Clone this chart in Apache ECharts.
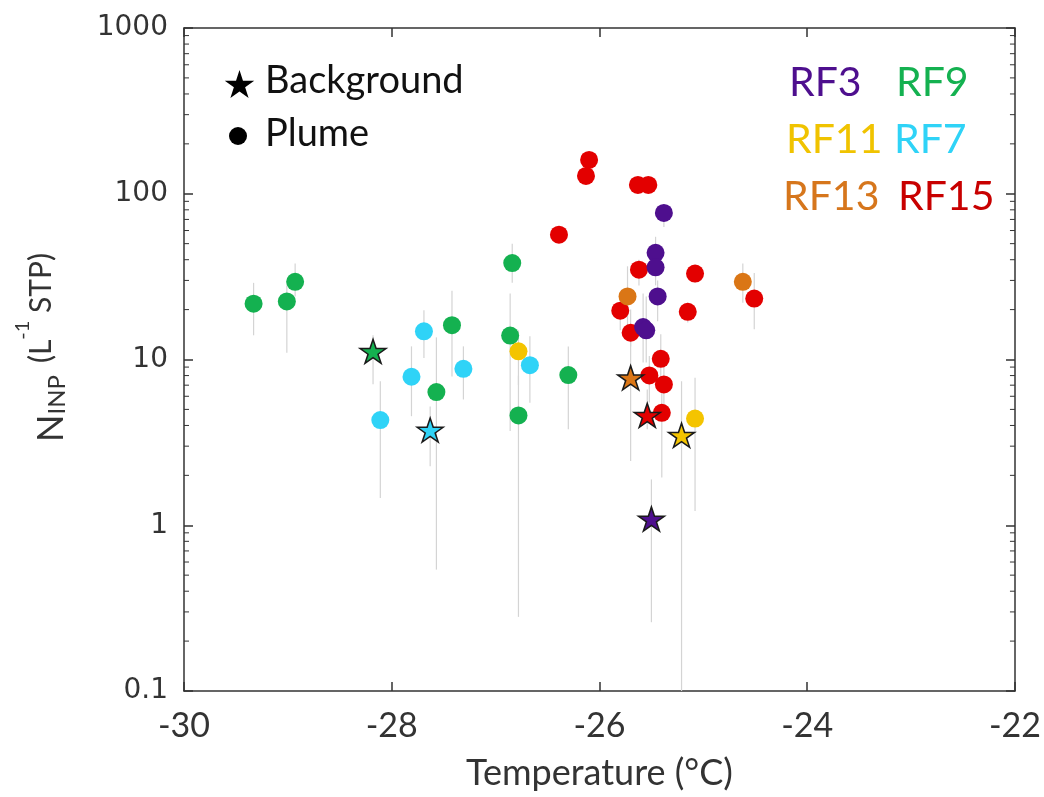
<!DOCTYPE html>
<html>
<head>
<meta charset="utf-8">
<script src="https://cdn.jsdelivr.net/npm/echarts@6/dist/echarts.min.js"></script>
<style>
  html, body { margin: 0; padding: 0; background: #ffffff; }
  #chart { width: 1044px; height: 797px; }
</style>
</head>
<body>
<div id="chart"></div>
<script>
// Each point: [temperature (°C), N_INP (L^-1 STP), lower bound, upper bound]
const rf3Plume = [
  [-25.38, 76.6, 63, 86],
  [-25.46, 44.0, 33, 55],
  [-25.46, 36.0, 28, 45],
  [-25.44, 24.0, 17, 30],
  [-25.58, 15.7, 9.6, 25],
  [-25.55, 15.0, 9.6, 24]
];
const rf3Background = [[-25.50, 1.09, 0.26, 1.89]];

const rf9Plume = [
  [-29.33, 21.7, 14, 29],
  [-29.01, 22.4, 11, 28],
  [-28.93, 29.4, 24, 38],
  [-27.57, 6.36, 0.54, 13.6],
  [-27.42, 16.1, 7.9, 26],
  [-26.86, 13.95, 3.7, 25],
  [-26.84, 38.2, 29, 50],
  [-26.78, 4.6, 0.28, 8],
  [-26.30, 8.05, 3.8, 12]
];
const rf9Background = [[-28.18, 11.2, 7.1, 14]];

const rf11Plume = [
  [-26.78, 11.2, 7, 15],
  [-25.08, 4.4, 1.22, 7.75]
];
const rf11Background = [[-25.21, 3.49, 0.05, 7.4]];

const rf7Plume = [
  [-28.11, 4.31, 1.46, 7.4],
  [-27.81, 7.87, 4.55, 12],
  [-27.69, 14.8, 10.2, 19.8],
  [-27.31, 8.79, 5.74, 12],
  [-26.67, 9.24, 5.48, 13.8]
];
const rf7Background = [[-27.63, 3.75, 2.27, 5.2]];

const rf13Plume = [
  [-25.73, 24.0, 14, 36.5],
  [-24.62, 29.4, 22, 38]
];
const rf13Background = [[-25.70, 7.76, 2.44, 14]];

const rf15Plume = [
  [-26.10, 160, 150, 170],
  [-26.13, 128, 120, 136],
  [-26.39, 56.6, 52, 61],
  [-25.63, 113, 105, 120],
  [-25.53, 113, 105, 120],
  [-25.62, 34.8, 28, 40],
  [-25.08, 33.0, 29, 37],
  [-25.80, 19.7, 15, 24],
  [-24.51, 23.3, 15.2, 33.2],
  [-25.15, 19.4, 16.7, 22],
  [-25.70, 14.5, 12, 20],
  [-25.41, 10.1, 7, 14.2],
  [-25.52, 8.01, 5.5, 10.5],
  [-25.38, 7.07, 5, 9.5],
  [-25.40, 4.77, 1.94, 7]
];
const rf15Background = [[-25.54, 4.6, 3.8, 6.6]];

const xTickLabels = ['-30', '-28', '-26', '-24', '-22'];
const yTickLabels = ['0.1', '1', '10', '100', '1000'];

const flightColors = {
  RF3: '#4e0f8e',
  RF9: '#14b150',
  RF11: '#f4c400',
  RF7: '#2fd3f7',
  RF13: '#da7616',
  RF15: '#e30000'
};
const labelColors = {
  RF3: '#4e0f8e',
  RF9: '#14b150',
  RF11: '#f0c300',
  RF7: '#2fd3f7',
  RF13: '#d6761c',
  RF15: '#c80000'
};

// circle layer order, then star layer order
const plumeSets = [
  ['RF15', rf15Plume], ['RF7', rf7Plume], ['RF9', rf9Plume],
  ['RF11', rf11Plume], ['RF13', rf13Plume], ['RF3', rf3Plume]
];
const backgroundSets = [
  ['RF9', rf9Background], ['RF7', rf7Background], ['RF13', rf13Background],
  ['RF15', rf15Background], ['RF11', rf11Background], ['RF3', rf3Background]
];

// five-point star outline in a 100-unit box
const STAR_POINTS = [
  [50, 0], [61.23, 34.55], [97.55, 34.55], [68.17, 55.9], [79.39, 90.45],
  [50, 69.1], [20.61, 90.45], [31.83, 55.9], [2.45, 34.55], [38.77, 34.55]
];
const STAR = 'path://M' + STAR_POINTS.map(p => p[0] + ',' + p[1]).join(' L') + ' Z';
const AXIS_COLOR = '#333333';
const X_MIN = -30, X_MAX = -22;

// minor log ticks (2..9 within each decade)
const minorTicks = [];
[0.1, 1, 10, 100].forEach(d => { for (let k = 2; k <= 9; k++) minorTicks.push([X_MIN, d * k]); });

function errorBar(params, api) {
  const x = api.value(0);
  const lo = api.coord([x, api.value(2)]);
  const hi = api.coord([x, api.value(3)]);
  return {
    type: 'line',
    shape: { x1: lo[0], y1: lo[1], x2: hi[0], y2: hi[1] },
    style: { stroke: '#d4d4d4', lineWidth: 1.2 }
  };
}

function minorTick(params, api) {
  const v = api.value(1);
  const l = api.coord([X_MIN, v]);
  const r = api.coord([X_MAX, v]);
  const st = { stroke: AXIS_COLOR, lineWidth: 1 };
  return {
    type: 'group',
    children: [
      { type: 'line', shape: { x1: l[0], y1: l[1], x2: l[0] + 5, y2: l[1] }, style: st },
      { type: 'line', shape: { x1: r[0] - 5, y1: r[1], x2: r[0], y2: r[1] }, style: st }
    ]
  };
}

const series = [];
const allSets = plumeSets.concat(backgroundSets);
allSets.forEach(([name, data]) => {
  series.push({
    type: 'custom', name: name + ' error', renderItem: errorBar, data: data,
    encode: { x: 0, y: [2, 3] }, clip: true, z: 1, silent: true
  });
});
plumeSets.forEach(([name, data], i) => {
  series.push({
    type: 'scatter', name: name, data: data.map(d => [d[0], d[1]]),
    symbol: 'circle', symbolSize: 18,
    itemStyle: { color: flightColors[name], opacity: 1 },
    z: 3 + i * 0.01
  });
});
backgroundSets.forEach(([name, data], i) => {
  series.push({
    type: 'scatter', name: name + ' background', data: data.map(d => [d[0], d[1]]),
    symbol: STAR, symbolSize: [26, 24],
    itemStyle: { color: flightColors[name], borderColor: '#1a1a1a', borderWidth: 1.5, opacity: 1 },
    z: 4 + i * 0.01
  });
});
series.push({
  type: 'custom', name: 'minor ticks', renderItem: minorTick, data: minorTicks,
  encode: { x: 0, y: 1 }, clip: false, z: 5, silent: true
});

const labelFont = 'Lato, "Open Sans", sans-serif';

// legend star placed at (224, 70), 31 x 29 px
const legendStar = STAR_POINTS.map(p => [224 + p[0] * 0.31, 70 + p[1] * 0.31]);

const option = {
  backgroundColor: '#ffffff',
  animation: false,
  grid: { left: 184, right: 28, top: 28, bottom: 106, containLabel: false },
  xAxis: [{
    type: 'value', min: X_MIN, max: X_MAX, interval: 2,
    name: 'Temperature (°C)', nameLocation: 'middle', nameGap: 64,
    nameTextStyle: { fontFamily: labelFont, fontSize: 36, color: AXIS_COLOR },
    axisLine: { show: true, lineStyle: { color: AXIS_COLOR, width: 1.5 } },
    axisTick: { show: true, inside: true, length: 9, lineStyle: { color: AXIS_COLOR, width: 1.5 } },
    axisLabel: {
      margin: 18, fontFamily: labelFont, fontSize: 34, color: AXIS_COLOR,
      formatter: v => xTickLabels[Math.round((v - X_MIN) / 2)]
    },
    splitLine: { show: false }
  }, {
    type: 'value', min: X_MIN, max: X_MAX, interval: 2, position: 'top',
    axisLine: { show: true, lineStyle: { color: AXIS_COLOR, width: 1.5 } },
    axisTick: { show: true, inside: true, length: 9, lineStyle: { color: AXIS_COLOR, width: 1.5 } },
    axisLabel: { show: false }, splitLine: { show: false }
  }],
  yAxis: [{
    type: 'log', logBase: 10, min: 0.1, max: 1000, splitNumber: 4,
    name: '{n|N}{s|INP}{g| }{p|(L}{u|-1}{p| STP)}',
    nameLocation: 'middle', nameRotate: 90, nameGap: 115,
    nameTextStyle: {
      padding: [0, 0, 0, 24],
      rich: {
        n: { fontFamily: labelFont, fontSize: 36, color: AXIS_COLOR, lineHeight: 36, verticalAlign: 'bottom' },
        s: { fontFamily: labelFont, fontSize: 24, color: AXIS_COLOR, lineHeight: 20, verticalAlign: 'bottom' },
        g: { fontFamily: labelFont, fontSize: 22, lineHeight: 56, width: 12 },
        p: { fontFamily: labelFont, fontSize: 30, color: AXIS_COLOR, lineHeight: 30, verticalAlign: 'middle' },
        u: { fontFamily: labelFont, fontSize: 20, color: AXIS_COLOR, lineHeight: 20, verticalAlign: 'top' }
      }
    },
    axisLine: { show: true, lineStyle: { color: AXIS_COLOR, width: 1.5 } },
    axisTick: { show: true, inside: true, length: 9, lineStyle: { color: AXIS_COLOR, width: 1.5 } },
    axisLabel: {
      margin: 16, fontFamily: '"DejaVu Sans", sans-serif', fontSize: 28, color: AXIS_COLOR,
      formatter: v => yTickLabels[Math.round(Math.log10(v)) + 1]
    },
    splitLine: { show: false }
  }, {
    type: 'log', logBase: 10, min: 0.1, max: 1000, splitNumber: 4, position: 'right',
    axisLine: { show: true, lineStyle: { color: AXIS_COLOR, width: 1.5 } },
    axisTick: { show: true, inside: true, length: 9, lineStyle: { color: AXIS_COLOR, width: 1.5 } },
    axisLabel: { show: false }, splitLine: { show: false }
  }],
  graphic: [
    { type: 'polygon', shape: { points: legendStar }, style: { fill: '#000' } },
    { type: 'circle', shape: { cx: 238, cy: 136, r: 9 }, style: { fill: '#000' } },
    { type: 'text', left: 265, top: 62, style: { text: 'Background', font: '38px Lato, sans-serif', fill: '#111' } },
    { type: 'text', left: 265, top: 115, style: { text: 'Plume', font: '38px Lato, sans-serif', fill: '#111' } },
    { type: 'text', left: 789, top: 62, style: { text: 'RF3', font: '41px Lato, sans-serif', fill: labelColors.RF3 } },
    { type: 'text', left: 896, top: 62, style: { text: 'RF9', font: '41px Lato, sans-serif', fill: labelColors.RF9 } },
    { type: 'text', left: 786, top: 119, style: { text: 'RF11', font: '41px Lato, sans-serif', fill: labelColors.RF11 } },
    { type: 'text', left: 894, top: 119, style: { text: 'RF7', font: '41px Lato, sans-serif', fill: labelColors.RF7 } },
    { type: 'text', left: 783, top: 176, style: { text: 'RF13', font: '41px Lato, sans-serif', fill: labelColors.RF13 } },
    { type: 'text', left: 898, top: 176, style: { text: 'RF15', font: '41px Lato, sans-serif', fill: labelColors.RF15 } }
  ],
  series: series
};

const chart = echarts.init(document.getElementById('chart'), null, { renderer: 'canvas' });
chart.setOption(option);
</script>
</body>
</html>
